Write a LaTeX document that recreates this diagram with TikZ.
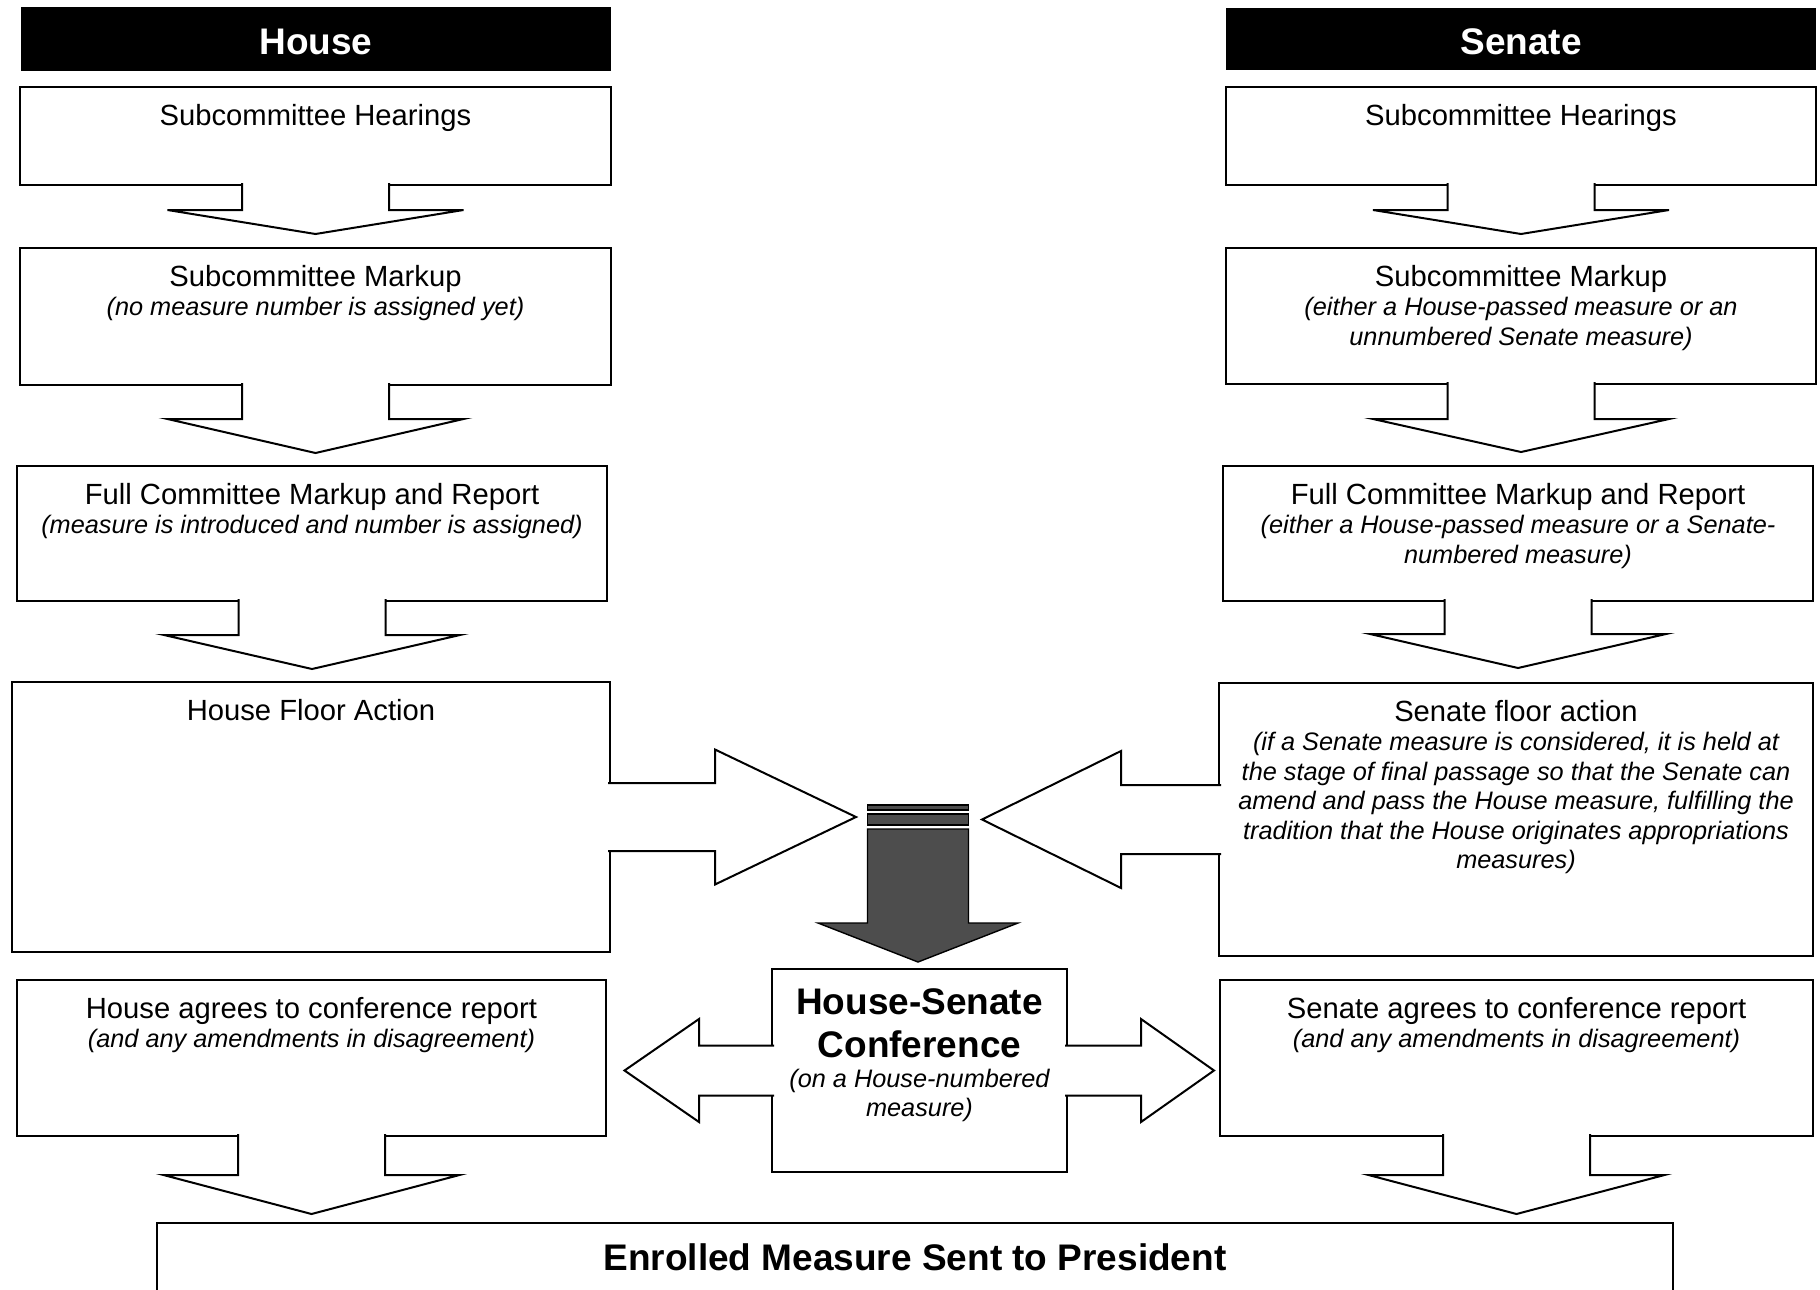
\documentclass[tikz,border=0pt]{standalone}
\usepackage{fontspec}
\setmainfont{Liberation Sans}
\usepackage{tikz}
\usetikzlibrary{calc, fit}
\definecolor{dark}{RGB}{77, 77, 77}

\newcommand{\asidefont}{\normalfont\fontsize{12.65}{14.75}\selectfont\itshape}

\tikzset{
  frame/.style={draw=black, line width=1pt, fill=white, inner sep=0pt, outer sep=0pt},
  headbar/.style={fill=black, inner sep=0pt, outer sep=0pt},
  headtext/.style={text=white, inner sep=0pt, font=\fontsize{18.5}{22}\selectfont\bfseries},
  stage/.style={anchor=base, text width=290pt, align=flush center, inner sep=0pt,
    font=\fontsize{14.6}{14.75}\selectfont},
  bigstage/.style={stage, font=\fontsize{18.5}{21.85}\selectfont\bfseries},
  blockarrow/.style={draw=black, line width=1pt, fill=white, line join=miter},
  darkarrow/.style={draw=black, line width=0.7pt, fill=dark, line join=miter}
}

\begin{document}
\begin{tikzpicture}[x=0.5pt, y=-0.5pt]

  \useasboundingbox (0, 0) rectangle (1820, 1290);
  \clip (0, 0) rectangle (1820, 1290);
  \fill[white] (0, 0) rectangle (1820, 1290);

  \pgfmathsetmacro{\sw}{73.5}
  \pgfmathsetmacro{\hw}{148}

  \node[headbar, fit={(21, 7) (611, 71)}] (househead) {};
  \node[headbar, fit={(1226, 8) (1816, 70)}] (senatehead) {};
  \node[headtext] (housetitle) at ($(househead.center) + (0, 3)$) {House};
  \node[headtext] (senatetitle) at ($(senatehead.center) + (0, 3)$) {Senate};

  \node[frame, fit={(20, 87) (611, 185)}] (hsh) {};
  \node[frame, fit={(20, 248) (611, 385)}] (hsm) {};
  \node[frame, fit={(17, 466) (607, 601)}] (hfc) {};
  \node[frame, fit={(12, 682) (610, 952)}] (hfa) {};
  \node[frame, fit={(17, 980) (606, 1136)}] (hag) {};

  \node[frame, fit={(1226, 87) (1816, 185)}] (ssh) {};
  \node[frame, fit={(1226, 248) (1816, 384)}] (ssm) {};
  \node[frame, fit={(1223, 466) (1813, 601)}] (sfc) {};
  \node[frame, fit={(1219, 683) (1813, 956)}] (sfa) {};
  \node[frame, fit={(1220, 980) (1813, 1136)}] (sag) {};

  \node[frame, fit={(772, 969) (1067, 1172)}] (conf) {};
  \node[frame, fit={(157, 1223) (1673, 1310)}] (enrolled) {};

  \foreach \n/\s/\h in {hsh/25/24, hsm/34/34, hfc/34/34, hag/39/39,
                        ssh/25/24, ssm/35/33, sfc/33/34, sag/39/39}
    \draw[blockarrow] ($(\n.south) + (-\sw, -2)$) -- ++(0, \s + 2) -- ++(-\hw + \sw, 0)
      -- ++(\hw, \h) -- ++(\hw, -\h) -- ++(-\hw + \sw, 0) -- ++(0, -\s - 2);

  \draw[blockarrow] ($(hfa.east) + (-2, -34)$) -- ++(107, 0) -- ++(0, -33.5)
    -- ++(141, 67.5) -- ++(-141, 67.5) -- ++(0, -33.5) -- ++(-107, 0);
  \draw[blockarrow] ($(sfa.west) + (2, -34.5)$) -- ++(-100, 0) -- ++(0, -34)
    -- ++(-139, 68.5) -- ++(139, 68.5) -- ++(0, -34) -- ++(100, 0);

  \draw[blockarrow] ($(conf.west) + (2, -25)$) -- ++(-75, 0) -- ++(0, -26.5)
    -- ++(-74.5, 51.5) -- ++(74.5, 51.5) -- ++(0, -26.5) -- ++(75, 0);
  \draw[blockarrow] ($(conf.east) + (-2, -25)$) -- ++(76, 0) -- ++(0, -26.5)
    -- ++(73, 51.5) -- ++(-73, 51.5) -- ++(0, -26.5) -- ++(-76, 0);

  \coordinate (confin) at ($(conf.north) + (-1.5, -7)$);
  \draw[darkarrow] ($(confin) + (-50.5, -157)$) rectangle ++(101, 5);
  \draw[darkarrow] ($(confin) + (-50.5, -148)$) rectangle ++(101, 11);
  \draw[darkarrow] ($(confin) + (-50.5, -133)$) -- ++(0, 94) -- ++(-49.5, 0)
    -- (confin) -- ++(100, -39) -- ++(-49.5, 0) -- ++(0, -94) -- cycle;

  \node[stage] (hshtext) at ($(hsh.north) + (0, 38)$) {Subcommittee Hearings};
  \node[stage] (hsmtext) at ($(hsm.north) + (0, 38)$)
    {Subcommittee Markup\\{\asidefont (no measure number is assigned yet)}};
  \node[stage] (hfctext) at ($(hfc.north) + (0, 38)$)
    {Full Committee Markup and Report\\{\asidefont (measure is introduced and number is assigned)}};
  \node[stage] (hfatext) at ($(hfa.north) + (0, 38)$) {House Floor Action};
  \node[stage] (hagtext) at ($(hag.north) + (0, 38)$)
    {House agrees to conference report\\{\asidefont (and any amendments in disagreement)}};

  \node[stage] (sshtext) at ($(ssh.north) + (0, 38)$) {Subcommittee Hearings};
  \node[stage] (ssmtext) at ($(ssm.north) + (0, 38)$)
    {Subcommittee Markup\\{\asidefont (either a House-passed measure or an\\unnumbered Senate measure)}};
  \node[stage] (sfctext) at ($(sfc.north) + (0, 38)$)
    {Full Committee Markup and Report\\{\asidefont (either a House-passed measure or a Senate-\\numbered measure)}};
  \node[stage] (sfatext) at ($(sfa.north) + (0, 38)$)
    {Senate floor action\\{\asidefont (if a Senate measure is considered, it is held at\\the stage of final passage so that the Senate can\\amend and pass the House measure, fulfilling the\\tradition that the House originates appropriations\\measures)}};
  \node[stage] (sagtext) at ($(sag.north) + (0, 38)$)
    {Senate agrees to conference report\\{\asidefont (and any amendments in disagreement)}};

  \node[bigstage, text width=140pt] (conftext) at ($(conf.north) + (0, 45)$)
    {House-Senate\\Conference\par{\asidefont (on a House-numbered\\measure)\par}};
  \node[bigstage, text width=400pt] (enrolledtext) at ($(enrolled.north) + (0, 47)$)
    {Enrolled Measure Sent to President};

\end{tikzpicture}
\end{document}
